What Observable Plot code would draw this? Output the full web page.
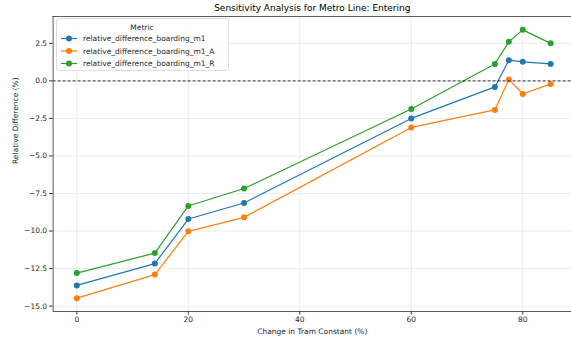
<!DOCTYPE html>
<html>
<head>
<meta charset="utf-8">
<script src="https://cdn.jsdelivr.net/npm/d3@7"></script>
<script src="https://cdn.jsdelivr.net/npm/@observablehq/plot@0.6"></script>
<style>
  html, body { margin: 0; padding: 0; background: #fff; }
  svg { display: block; }
</style>
</head>
<body>
<div id="chart"></div>
<script>
const title = "Sensitivity Analysis for Metro Line: Entering";
const xLabel = "Change in Tram Constant (%)";
const yLabel = "Relative Difference (%)";
const legendTitle = "Metric";

const changes = [0, 14, 20, 30, 60, 75, 77.5, 80, 85];
const seriesNames = ["relative_difference_boarding_m1", "relative_difference_boarding_m1_A", "relative_difference_boarding_m1_R"];
const m1  = [-13.62, -12.17, -9.2, -8.13, -2.5, -0.4, 1.38, 1.27, 1.13];
const m1A = [-14.47, -12.9, -10.02, -9.09, -3.1, -1.93, 0.1, -0.87, -0.2];
const m1R = [-12.8, -11.47, -8.33, -7.17, -1.87, 1.13, 2.6, 3.4, 2.5];
const colors = ["#1f77b4", "#ff7f0e", "#2ca02c"];
const xTicks = [0, 20, 40, 60, 80];
const yTicks = [-15, -12.5, -10, -7.5, -5, -2.5, 0, 2.5];

const seriesValues = [m1, m1A, m1R];
const data = [];
seriesNames.forEach((name, i) => {
  changes.forEach((c, j) => data.push({series: name, x: c, y: seriesValues[i][j]}));
});

const font = "'DejaVu Sans', sans-serif";
const textColor = "#262626";
const xDom = [-4.25, 88.74];
const yDom = [-15.36, 4.29];

const svg = Plot.plot({
  width: 571,
  height: 342,
  marginLeft: 52.6,
  marginRight: 0,
  marginTop: 16,
  marginBottom: 31,
  style: {fontFamily: font, fontSize: "7.5px", color: textColor, background: "#fff"},
  x: {domain: xDom},
  y: {domain: yDom},
  color: {domain: seriesNames, range: colors},
  marks: [
    Plot.gridX(xTicks, {stroke: "#e6e6e6", strokeOpacity: 1, strokeWidth: 0.8}),
    Plot.gridY(yTicks, {stroke: "#e6e6e6", strokeOpacity: 1, strokeWidth: 0.8}),
    Plot.axisX({ticks: xTicks, tickSize: 3.5, tickPadding: 2, label: null, stroke: "#333", fill: textColor}),
    Plot.axisY({ticks: yTicks, tickSize: 3.5, tickPadding: 2.5, label: null, tickFormat: d3.format(".1f"), stroke: "#333", fill: textColor}),
    Plot.line(data, {x: "x", y: "y", z: "series", stroke: "series", strokeWidth: 1.2}),
    Plot.dot(data, {x: "x", y: "y", fill: "series", r: 3, stroke: "none"}),
    Plot.ruleY([0], {stroke: "#000", strokeWidth: 0.8, strokeDasharray: "3,2"}),
    Plot.ruleY([yDom[1]], {stroke: "#333", strokeWidth: 0.8}),
    Plot.ruleY([yDom[0]], {stroke: "#333", strokeWidth: 0.8}),
    Plot.ruleX([xDom[0]], {stroke: "#333", strokeWidth: 0.8}),
    Plot.text([title], {frameAnchor: "top", dy: -8, fontSize: 9, fill: "#000", lineAnchor: "middle"}),
    Plot.text([xLabel], {frameAnchor: "bottom", dy: 20, fontSize: 7.5, fill: textColor, lineAnchor: "middle"}),
    Plot.text([yLabel], {frameAnchor: "left", dx: -38, rotate: -90, fontSize: 7.5, fill: textColor, lineAnchor: "middle"})
  ]
});

// Legend
const sel = d3.select(svg);
const lg = sel.append("g").attr("font-family", font).attr("font-size", "7.5px").attr("text-anchor", "start");
lg.append("rect").attr("x", 56.5).attr("y", 18.5).attr("width", 172).attr("height", 52)
  .attr("rx", 2).attr("fill", "#fff").attr("fill-opacity", 0.85).attr("stroke", "#d6d6d6").attr("stroke-width", 0.8);
lg.append("text").attr("x", 142).attr("y", 27).attr("text-anchor", "middle").attr("dominant-baseline", "central")
  .attr("fill", textColor).text(legendTitle);
seriesNames.forEach((name, i) => {
  const yy = 38.5 + i * 12.5;
  lg.append("line").attr("x1", 61).attr("x2", 77).attr("y1", yy).attr("y2", yy)
    .attr("stroke", colors[i]).attr("stroke-width", 1.2);
  lg.append("circle").attr("cx", 69).attr("cy", yy).attr("r", 3).attr("fill", colors[i]);
  lg.append("text").attr("x", 83).attr("y", yy).attr("text-anchor", "start").attr("dominant-baseline", "central")
    .attr("fill", textColor).text(name);
});

document.getElementById("chart").appendChild(svg);
</script>
</body>
</html>
